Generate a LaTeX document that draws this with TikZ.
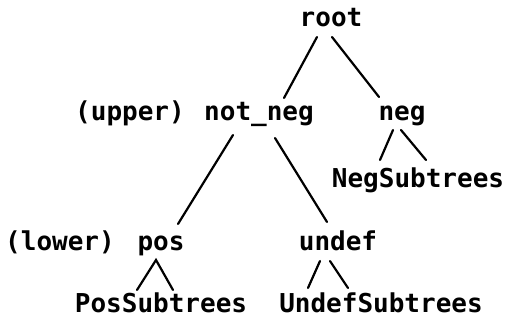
\documentclass[tikz,border=0pt]{standalone}
\usepackage{fontspec}
\setmonofont{DejaVu Sans Mono}
\begin{document}
\begin{tikzpicture}[x=1pt,y=-1pt,
  lbl/.style={inner sep=0pt,anchor=base,font=\ttfamily\bfseries\fontsize{26}{30}\selectfont},
  lblw/.style={lbl,anchor=base west},
  edge/.style={line width=2.2pt,line cap=round}]
  \fill[white] (0,0) rectangle (521,320);
  \useasboundingbox (0,0) rectangle (521,320);

  % tree labels
  \node[lbl]  (root)     at (331,27)  {root};
  \node[lblw] (upper)    at (75,121)  {(upper)};
  \node[lbl]  (notneg)   at (259,121) {not\_neg};
  \node[lbl]  (neg)      at (402,121) {neg};
  \node[lbl]  (negsub)   at (418,188) {NegSubtrees};
  \node[lblw] (lower)    at (5,250)   {(lower)};
  \node[lbl]  (pos)      at (161,250) {pos};
  \node[lbl]  (undef)    at (338,250) {undef};
  \node[lbl]  (possub)   at (161,312) {PosSubtrees};
  \node[lbl]  (undefsub) at (381,312) {UndefSubtrees};

  % branches
  \draw[edge] ([shift={(-14,10)}]root.base) -- ([shift={(25,-23)}]notneg.base);
  \draw[edge] ([shift={(1,10)}]root.base) -- ([shift={(-23,-24)}]neg.base);
  \draw[edge] ([shift={(-26,14)}]notneg.base) -- ([shift={(17,-26)}]pos.base);
  \draw[edge] ([shift={(16,17)}]notneg.base) -- ([shift={(-11,-28)}]undef.base);
  \draw[edge] ([shift={(-9,9)}]neg.base) -- ([shift={(-38,-28)}]negsub.base);
  \draw[edge] ([shift={(-1,9)}]neg.base) -- ([shift={(8,-28)}]negsub.base);
  \draw[edge] ([shift={(-24,-22)}]possub.base) -- ([shift={(-5,10)}]pos.base)
              -- ([shift={(12,-22)}]possub.base);
  \draw[edge] ([shift={(-18,11)}]undef.base) -- ([shift={(-73,-24)}]undefsub.base);
  \draw[edge] ([shift={(-8,11)}]undef.base) -- ([shift={(-33,-24)}]undefsub.base);
\end{tikzpicture}
\end{document}
